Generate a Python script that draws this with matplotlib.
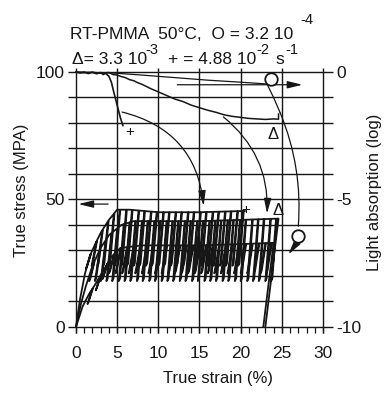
import numpy as np
import matplotlib
matplotlib.use("Agg")
import matplotlib.pyplot as plt

plt.rcParams["font.family"] = ["Liberation Sans", "DejaVu Sans"]
plt.rcParams["axes.unicode_minus"] = False

INK = "#161616"

# axes / grid
strain_ticks = [0, 5, 10, 15, 20, 25, 30]
strain_minor = list(range(0, 31))
stress_ticks = [0, 50, 100]
stress_grid = [0, 10, 20, 30, 40, 50, 60, 70, 80, 90, 100]
absorb_ticks = [0, -5, -10]
absorb_labels = ["0", "-5", "-10"]

# light absorption (log) vs strain, one curve per strain rate
abs_plus_x = [0, 0.5, 1.0, 1.5, 2.0, 2.5, 3.0, 3.3, 3.6, 4.0, 4.3, 4.6, 5.0, 5.4, 5.7]
abs_plus_y = [0, -0.04, 0, -0.06, -0.01, -0.07, -0.02, -0.10, -0.05, -0.17,
              -0.4, -0.8, -1.3, -1.8, -2.1]
abs_delta_x = [0, 1, 2, 3, 4, 4.5, 5, 5.5, 6, 6.5, 7, 7.5, 8, 9, 10, 11, 12, 13,
               14, 15, 16, 17, 18, 19, 20, 21, 22, 23, 24, 24.6, 24.6]
abs_delta_y = [0, -0.03, -0.01, -0.05, -0.02, -0.10, -0.12, -0.18, -0.22, -0.30,
               -0.34, -0.42, -0.48, -0.64, -0.78, -0.92, -1.06, -1.16, -1.30,
               -1.40, -1.50, -1.58, -1.68, -1.74, -1.78, -1.82, -1.84, -1.86,
               -1.84, -1.85, -1.65]
abs_o_x = [0, 2, 4.5, 8, 12, 16, 20, 23.2, 24.0, 24.8]
abs_o_y = [0, -0.02, -0.04, -0.12, -0.22, -0.32, -0.40, -0.47, -1.0, -1.6]

# true stress (MPa) envelopes with unloading spikes
st_plus_x = [0, 0.5, 1.1, 1.7, 2.4, 3.1, 4.0, 5.0, 6.5, 10, 15, 20.5]
st_plus_y = [0, 11, 21, 28, 33, 37.5, 42, 46, 46, 45, 45, 45.5]
st_plus_spikes = [1.8, 2.5, 3.2, 3.9, 4.6, 5.3, 6.1, 6.8, 7.6, 8.3, 9.1, 9.8,
                  10.6, 11.3, 12.1, 12.8, 13.6, 14.3, 15.1, 15.8, 16.6, 17.3,
                  18.1, 18.8, 19.6, 20.3]
st_plus_low = 24

st_delta_x = [0, 0.6, 1.2, 2.0, 3.0, 4.0, 5.5, 7, 10, 15, 20, 24.6]
st_delta_y = [0, 9, 16, 24, 31, 36, 40, 41.5, 41.5, 41.5, 42, 42.5]
st_delta_spikes = [2.2, 2.9, 3.6, 4.3, 5.0, 5.8, 6.5, 7.2, 8.0, 8.7, 9.5, 10.2,
                   11.0, 11.7, 12.4, 13.2, 13.9, 14.7, 15.4, 16.2, 16.9, 17.6,
                   18.4, 19.1, 19.9, 20.6, 21.4, 22.1, 22.8, 23.6, 24.3]
st_delta_low = 18
st_delta_unload = (23.0, 0)

st_o_x = [0, 0.8, 1.6, 2.3, 3.3, 4.3, 5.4, 8, 15, 20, 24.0]
st_o_y = [0, 8, 13, 16.5, 22, 27.5, 31, 32, 32, 32.5, 33]
st_o_spikes = [2.0, 3.0, 3.8, 4.6, 5.4, 6.2, 7.0, 7.8, 8.6, 9.4, 10.2, 11.0,
               11.8, 12.6, 13.4, 14.2, 15.0, 15.8, 16.6, 17.4, 18.2, 19.0,
               19.8, 20.6, 21.4, 22.2, 23.0, 23.7]
st_o_low = 21
st_o_unload = (22.75, 0)


def serrated(env_x, env_y, spikes, low, unload=None):
    # envelope with thin unload/reload needles inserted at each spike strain
    events = [(x, 0) for x in env_x] + [(s, 1) for s in spikes]
    events.sort()
    xs, ys = [], []
    for x, kind in events:
        top = np.interp(x, env_x, env_y)
        if kind == 0:
            xs.append(x)
            ys.append(top)
        else:
            bot = min(low, top - 6)
            xs += [x, x - 0.6, x - 0.45, x + 0.08]
            ys += [top, bot, bot + 1, np.interp(x + 0.08, env_x, env_y)]
    if unload is not None:
        xs.append(unload[0])
        ys.append(unload[1])
    return xs, ys


fig = plt.figure(figsize=(3.86, 3.94), dpi=100)
ax = fig.add_axes([0.1712, 0.1442, 0.6933, 0.686])
ax.set_xlim(-1.2, 31.3)
ax.set_ylim(-4, 102)
for sp in ax.spines.values():
    sp.set_visible(False)

ax.set_xticks(strain_ticks)
ax.set_yticks(stress_ticks)
ax.tick_params(axis="x", length=0, labelsize=12.5, colors=INK, pad=6)
ax.tick_params(axis="y", length=0, labelsize=12.5, colors=INK, pad=1)

ax2 = ax.twinx()
ax2.set_ylim(-10.4, 0.2)
for sp in ax2.spines.values():
    sp.set_visible(False)
ax2.set_yticks(absorb_ticks)
ax2.set_yticklabels(absorb_labels)
ax2.tick_params(axis="y", length=0, labelsize=12.5, colors=INK, pad=2)

# grid
ax.hlines(stress_grid, -1.0, 31.2, color=INK, lw=1.0, zorder=1)
ax.vlines(strain_ticks, -2.4, 101.5, color=INK, lw=1.0, zorder=1)
ax.vlines(strain_minor, -2.4, 0, color=INK, lw=0.9, zorder=1)

# stress curves
for ex, ey, sk, lo, un in [(st_plus_x, st_plus_y, st_plus_spikes, st_plus_low, None),
                           (st_delta_x, st_delta_y, st_delta_spikes, st_delta_low, st_delta_unload),
                           (st_o_x, st_o_y, st_o_spikes, st_o_low, st_o_unload)]:
    xs, ys = serrated(ex, ey, sk, lo, un)
    ax.plot(xs, ys, color=INK, lw=1.3, zorder=3)

# light absorption curves
ax2.plot(abs_plus_x, abs_plus_y, color=INK, lw=1.2, zorder=3)
ax2.plot(abs_delta_x, abs_delta_y, color=INK, lw=1.1, zorder=3)
ax2.plot(abs_o_x, abs_o_y, color=INK, lw=0.9, zorder=3)

# markers
ax2.text(6.5, -2.35, "+", fontsize=11, ha="center", va="center", color=INK)
ax2.text(23.9, -2.47, "Δ", fontsize=12, ha="center", va="center", color=INK)
ax2.plot([23.7], [-0.28], "o", ms=9, mfc="white", mec=INK, mew=1.3, zorder=5)
ax.text(20.6, 46, "+", fontsize=11, ha="center", va="center", color=INK)
ax.text(24.6, 45.5, "Δ", fontsize=12, ha="center", va="center", color=INK)

arrow = dict(arrowstyle="-|>,head_length=0.9,head_width=0.22", color=INK, lw=0.9,
             shrinkA=0, shrinkB=0)
# axis-direction arrows
ax.annotate("", xy=(27.5, 95), xytext=(12.3, 95), arrowprops=arrow)
ax.annotate("", xy=(0.3, 48.2), xytext=(3.9, 48.2), arrowprops=arrow)
# links from absorption curves to stress curves
ax.annotate("", xy=(15.5, 47.5), xytext=(5.6, 84.3),
            arrowprops=dict(arrow, connectionstyle="arc3,rad=-0.35"))
ax.annotate("", xy=(23.2, 44.5), xytext=(17.9, 82.4),
            arrowprops=dict(arrow, connectionstyle="arc3,rad=-0.25"))
ax.annotate("", xy=(27.0, 39.5), xytext=(24.8, 84),
            arrowprops=dict(arrowstyle="-", color=INK, lw=0.9, shrinkA=0, shrinkB=0,
                            connectionstyle="arc3,rad=-0.12"))
ax.plot([27.0], [35.5], "o", ms=9, mfc="white", mec=INK, mew=1.3, zorder=5)
ax.annotate("", xy=(25.8, 28.5), xytext=(26.6, 32), arrowprops=arrow)

# title
def px(x, y):
    return x / 386, 1 - y / 394

fs = 12.5
sup = 10.5
fig.text(*px(70, 39), "RT-PMMA  50°C,  O = 3.2 10", fontsize=fs, color=INK, va="baseline")
fig.text(*px(300, 24), "-4", fontsize=sup, color=INK, va="baseline")
fig.text(*px(72, 64), "Δ= 3.3 10", fontsize=fs, color=INK, va="baseline")
fig.text(*px(145, 54), "-3", fontsize=sup, color=INK, va="baseline")
fig.text(*px(168, 64), "+ = 4.88 10", fontsize=fs, color=INK, va="baseline")
fig.text(*px(256, 54), "-2", fontsize=sup, color=INK, va="baseline")
fig.text(*px(275, 64), "s", fontsize=fs, color=INK, va="baseline")
fig.text(*px(285, 54), "-1", fontsize=sup, color=INK, va="baseline")

# axis labels
fig.text(*px(218, 378), "True strain (%)", fontsize=12, color=INK, ha="center", va="center")
fig.text(*px(22, 190), "True stress (MPA)", fontsize=12, color=INK, ha="center",
         va="center", rotation=90)
fig.text(*px(375, 192), "Light absorption (log)", fontsize=12, color=INK, ha="center",
         va="center", rotation=90)

fig.savefig("out.png", dpi=100)
